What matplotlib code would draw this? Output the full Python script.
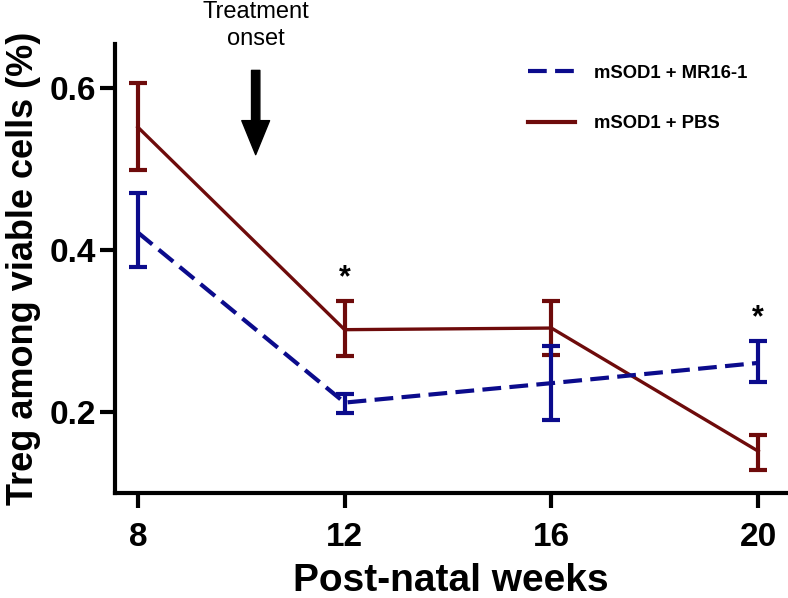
import matplotlib
matplotlib.use("Agg")
import matplotlib.pyplot as plt
from matplotlib.lines import Line2D

weeks = [8, 12, 16, 20]
pbs_mean = [0.552, 0.302, 0.304, 0.152]
pbs_upper = [0.607, 0.337, 0.337, 0.172]
pbs_lower = [0.499, 0.269, 0.271, 0.129]
mr_mean = [0.422, 0.212, 0.236, 0.261]
mr_upper = [0.471, 0.223, 0.282, 0.288]
mr_lower = [0.379, 0.199, 0.190, 0.238]
star_weeks = [12, 20]
star_y = [0.366, 0.316]
xticks = [8, 12, 16, 20]
yticks = [0.2, 0.4, 0.6]

plt.rcParams['font.family'] = ['Liberation Sans', 'DejaVu Sans']

fig = plt.figure(figsize=(7.88, 5.98), dpi=100)
ax = fig.add_axes([0.146, 0.175, 0.853, 0.752])

red = '#6e0b0b'
blue = '#0b0b8c'

mr_err = [[m - l for m, l in zip(mr_mean, mr_lower)], [u - m for m, u in zip(mr_mean, mr_upper)]]
pbs_err = [[m - l for m, l in zip(pbs_mean, pbs_lower)], [u - m for m, u in zip(pbs_mean, pbs_upper)]]

ax.errorbar(weeks, pbs_mean, yerr=pbs_err, color=red, lw=2.4, elinewidth=3, capsize=6.5, capthick=3,
            zorder=2)
ax.errorbar(weeks, mr_mean, yerr=mr_err, color=blue, lw=3, linestyle=(0, (4.5, 2)), elinewidth=3,
            capsize=6.5, capthick=3, zorder=3)

for w, s in zip(star_weeks, star_y):
    ax.text(w, s, '*', ha='center', va='center', fontsize=22, fontweight='bold', color='black')

ax.set_xlim(7.56, 20.56)
ax.set_ylim(0.1, 0.655)
ax.set_xticks(xticks)
ax.set_xticklabels([str(t) for t in xticks])
ax.set_yticks(yticks)
ax.set_yticklabels([f'{t:.1f}' for t in yticks])

for side in ['top', 'right']:
    ax.spines[side].set_visible(False)
for side in ['left', 'bottom']:
    ax.spines[side].set_linewidth(3)

ax.tick_params(axis='both', width=3, length=10.5, labelsize=24)
ax.tick_params(axis='x', pad=10)
ax.tick_params(axis='y', pad=3)
for lab in ax.get_xticklabels() + ax.get_yticklabels():
    lab.set_fontweight('bold')

ax.set_xlabel('Post-natal weeks', fontsize=28, fontweight='bold', labelpad=7)
ax.set_ylabel('Treg among viable cells (%)', fontsize=26, fontweight='bold', labelpad=6)

# Treatment onset arrow
ax.annotate('', xy=(10.28, 0.518), xytext=(10.28, 0.622),
            arrowprops=dict(arrowstyle='simple,head_width=2.0,head_length=2.45,tail_width=0.6',
                            color='black', shrinkA=0, shrinkB=0))
fig.text(256 / 788, 1 - 1 / 598, 'Treatment\nonset', ha='center', va='top', fontsize=17,
         linespacing=1.3)

h_mr = Line2D([0], [0], color=blue, lw=3, linestyle=(0, (4.5, 2)))
h_pbs = Line2D([0], [0], color=red, lw=3)
ax.legend([h_mr, h_pbs], ['mSOD1 + MR16-1', 'mSOD1 + PBS'], loc='upper right',
          bbox_to_anchor=(0.965, 0.99), frameon=False,
          prop={'weight': 'bold', 'size': 13.3}, handlelength=2.55, handletextpad=1.0,
          labelspacing=1.8)

fig.savefig('out.png', dpi=100)
